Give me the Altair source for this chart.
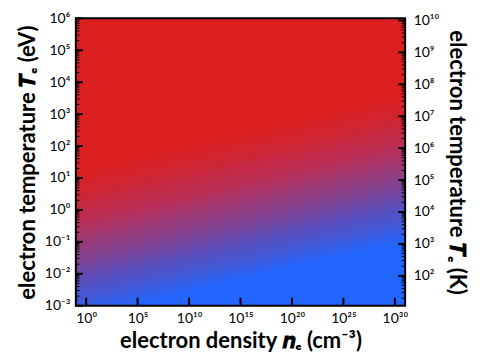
import altair as alt
import pandas as pd
import math

# ---- data (log10 units) ----
density_extent = [-1, 31]            # log10 n_e (cm^-3)
temp_ev_extent = [-3, 6]             # log10 T_e (eV)
EV_TO_K_LOG = 4.0646                 # log10(11604.5 K per eV)

x_major = [0, 5, 10, 15, 20, 25, 30]
y_ev_major = [-3, -2, -1, 0, 1, 2, 3, 4, 5, 6]
y_k_major = [2, 3, 4, 5, 6, 7, 8, 9, 10]
minor_mult = [2, 3, 4, 5, 6, 7, 8, 9]

# colour field (linear gradient across the plot)
stop_offsets = [0.0, 0.26, 0.333, 0.415, 0.47, 0.525, 0.579, 0.634, 0.69, 1.0]
stop_colors = ["#DC1F1F", "#DC1F1F", "#CC2535", "#B8305A", "#9A3A78", "#7E4394",
               "#5C4DBA", "#4258D6", "#2266FF", "#2266FF"]
grad_start = [0.3495, 0.126]
grad_end = [0.6505, 1.245]

W, H = 330, 288
FONT = "Lato"

sup = str.maketrans("0123456789-", "⁰¹²³⁴⁵⁶⁷⁸⁹⁻")


def label_expr(values, shift=0.0):
    key = "datum.value" if shift == 0 else f"round(datum.value + {shift})"
    expr = "''"
    for v in reversed(values):
        expr = f"{key} == {v} ? '10{str(v).translate(sup)}' : ({expr})"
    return expr


def minor_ticks(lo, hi, shift=0.0):
    out = []
    for n in range(math.floor(lo + shift) - 1, math.ceil(hi + shift) + 1):
        for k in minor_mult:
            v = n + math.log10(k) - shift
            if lo < v < hi:
                out.append(v)
    return out


extent_df = pd.DataFrame({"x": [density_extent[0]], "x2": [density_extent[1]],
                          "y": [temp_ev_extent[0]], "y2": [temp_ev_extent[1]]})
x_major_df = pd.DataFrame({"v": x_major})
ev_major_df = pd.DataFrame({"v": y_ev_major})
ev_minor_df = pd.DataFrame({"v": minor_ticks(*temp_ev_extent)})
k_major_df = pd.DataFrame({"v": [k - EV_TO_K_LOG for k in y_k_major]})
k_minor_df = pd.DataFrame({"v": minor_ticks(*temp_ev_extent, shift=EV_TO_K_LOG)})

xscale = alt.Scale(domain=density_extent, nice=False, zero=False)
yscale = alt.Scale(domain=temp_ev_extent, nice=False, zero=False)

gradient = alt.LinearGradient(
    gradient="linear",
    stops=[alt.GradientStop(offset=o, color=c) for o, c in zip(stop_offsets, stop_colors)],
    x1=grad_start[0], y1=grad_start[1], x2=grad_end[0], y2=grad_end[1],
)

field = alt.Chart(extent_df).mark_rect(fill=gradient, stroke="black", strokeWidth=2).encode(
    x=alt.X("x:Q", scale=xscale, axis=alt.Axis(
        orient="bottom", values=x_major, labelExpr=label_expr(x_major), ticks=False,
        domain=False, grid=False, labelPadding=6, labelOverlap=False,
        title="electron density 𝒏ₑ (cm⁻³)", titlePadding=5)),
    x2="x2:Q",
    y=alt.Y("y:Q", scale=yscale, axis=alt.Axis(
        orient="left", values=y_ev_major, labelExpr=label_expr(y_ev_major), ticks=False,
        domain=False, grid=False, labelPadding=6,
        title="electron temperature 𝑻ₑ (eV)", titlePadding=5)),
    y2="y2:Q",
)

left_major = alt.Chart(ev_major_df).mark_rule(color="black", strokeWidth=2).encode(
    y=alt.Y("v:Q", scale=yscale, axis=None), x=alt.value(0), x2=alt.value(7))
left_minor = alt.Chart(ev_minor_df).mark_rule(color="black", strokeWidth=1).encode(
    y=alt.Y("v:Q", scale=yscale, axis=None), x=alt.value(0), x2=alt.value(3.5))
bottom_major = alt.Chart(x_major_df).mark_rule(color="black", strokeWidth=2).encode(
    x=alt.X("v:Q", scale=xscale), y=alt.value(H), y2=alt.value(H - 8))

right_major = alt.Chart(k_major_df).mark_rule(color="black", strokeWidth=2).encode(
    y=alt.Y("v:Q", scale=yscale, axis=alt.Axis(
        orient="right", values=[k - EV_TO_K_LOG for k in y_k_major],
        labelExpr=label_expr(y_k_major, EV_TO_K_LOG), ticks=False,
        domain=False, grid=False, labelPadding=8, title="electron temperature 𝑻ₑ (K)",
        titlePadding=6)),
    x=alt.value(W - 7), x2=alt.value(W))
right_minor = alt.Chart(k_minor_df).mark_rule(color="black", strokeWidth=1).encode(
    y=alt.Y("v:Q", scale=yscale, axis=None), x=alt.value(W - 3.5), x2=alt.value(W))

chart = alt.layer(field, left_major, left_minor, right_major, right_minor, bottom_major).properties(
    width=W, height=H,
    padding={"left": 8, "top": 3, "right": 4, "bottom": 0},
    background="white",
).configure_view(strokeWidth=0).configure_axis(
    labelFont=FONT, labelFontSize=14, labelColor="black",
    titleFont=FONT, titleFontSize=22, titleFontWeight="bold", titleColor="black",
)

chart.save("out.html", embed_options={"renderer": "svg", "actions": False})
